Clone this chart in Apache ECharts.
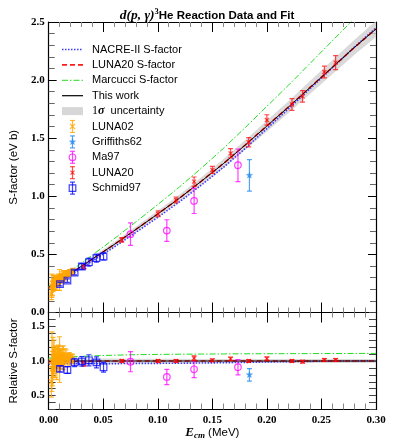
<!DOCTYPE html>
<html><head><meta charset="utf-8">
<script src="https://cdn.jsdelivr.net/npm/echarts@6/dist/echarts.min.js"></script>
<style>html,body{margin:0;padding:0;background:#fff}#c{width:395px;height:444px}</style>
</head><body><div id="c"></div>
<script>
// ---- curve grid (MeV) ----
const curveE     = [0,0.02,0.04,0.06,0.08,0.10,0.12,0.14,0.16,0.18,0.20,0.22,0.24,0.26,0.28,0.30];
const thisWork   = [0.215,0.335,0.46,0.585,0.715,0.848,0.985,1.13,1.28,1.44,1.605,1.77,1.94,2.11,2.28,2.44];
const nacreII    = [0.205,0.322,0.443,0.563,0.69,0.819,0.953,1.097,1.248,1.411,1.583,1.754,1.93,2.106,2.282,2.45];
const luna20Fit  = [0.213,0.334,0.459,0.585,0.715,0.848,0.985,1.131,1.281,1.441,1.606,1.771,1.941,2.11,2.279,2.44];
const marcucci   = [0.224,0.355,0.494,0.634,0.78,0.929,1.081,1.243,1.411,1.59,1.774,1.958,2.148,2.338,2.529,2.708];
const bandLo     = [0.205,0.322,0.443,0.564,0.69,0.821,0.955,1.097,1.242,1.398,1.558,1.719,1.884,2.05,2.215,2.37];
const bandHi     = [0.225,0.348,0.477,0.606,0.74,0.875,1.015,1.163,1.318,1.482,1.652,1.821,1.996,2.17,2.345,2.51];
// relative curves
const thisWorkRel = [1,1,1,1,1,1,1,1,1,1,1,1,1,1,1,1];
const nacreIIRel  = [0.953,0.961,0.963,0.962,0.965,0.966,0.968,0.971,0.975,0.98,0.986,0.991,0.995,0.998,1.001,1.004];
const luna20FitRel= [0.991,0.997,0.998,1.0,1.0,1.0,1.0,1.001,1.001,1.001,1.001,1.0,1.0,1.0,1.0,1.0];
const marcucciRel = [1.042,1.06,1.074,1.084,1.091,1.095,1.098,1.1,1.102,1.104,1.105,1.106,1.107,1.108,1.109,1.11];
const bandRelLo   = [0.955,0.961,0.964,0.965,0.966,0.968,0.969,0.97,0.97,0.971,0.971,0.971,0.971,0.972,0.972,0.972];
const bandRelHi   = [1.045,1.039,1.036,1.035,1.034,1.032,1.031,1.03,1.03,1.029,1.029,1.029,1.029,1.028,1.028,1.028];

// ---- data sets ----
const luna02E      = [0.0025,0.003,0.0035,0.004,0.0045,0.005,0.0055,0.006,0.0065,0.007,0.0075,0.008,0.0085,0.009,0.0095,0.010,0.0105,0.011,0.0115,0.012,0.0125,0.013,0.0135,0.014,0.015,0.016,0.017,0.018,0.019,0.020,0.021,0.022];
const luna02S      = [0.16,0.23,0.21,0.25,0.24,0.26,0.25,0.24,0.27,0.26,0.25,0.28,0.27,0.28,0.29,0.28,0.29,0.29,0.30,0.29,0.31,0.30,0.31,0.31,0.32,0.33,0.33,0.34,0.34,0.35,0.35,0.36];
const luna02Err    = [0.05,0.10,0.06,0.07,0.05,0.06,0.04,0.05,0.04,0.03,0.06,0.04,0.03,0.05,0.03,0.09,0.03,0.04,0.03,0.02,0.04,0.03,0.05,0.02,0.04,0.03,0.02,0.02,0.03,0.02,0.02,0.02];
const luna02Rel    = [0.70,0.99,0.89,1.05,0.99,1.06,1.01,0.96,1.06,1.01,0.96,1.06,1.02,1.04,1.07,1.02,1.04,1.03,1.06,1.01,1.07,1.02,1.05,1.04,1.05,1.06,1.04,1.05,1.03,1.04,1.03,1.04];
const luna02RelErr = [0.22,0.43,0.25,0.29,0.21,0.24,0.16,0.20,0.16,0.12,0.23,0.15,0.11,0.19,0.11,0.33,0.11,0.14,0.11,0.07,0.14,0.10,0.17,0.07,0.13,0.10,0.06,0.06,0.09,0.06,0.06,0.06];

const griffE = [0.184], griffS = [1.18], griffErr = [0.135], griffRel = [0.80], griffRelErr = [0.09];

const ma97E = [0.075,0.1083,0.1333,0.1735];
const ma97S = [0.674,0.705,0.96,1.267];
const ma97Err = [0.097,0.093,0.108,0.14];
const ma97Rel = [0.99,0.77,0.88,0.91];
const ma97RelErr = [0.145,0.11,0.12,0.11];

const luna20E = [0.0324,0.067,0.1003,0.1167,0.1333,0.150,0.1667,0.1833,0.200,0.223,0.2327,0.2527,0.263];
const luna20S = [0.39,0.625,0.849,0.969,1.126,1.227,1.37,1.465,1.657,1.79,1.86,2.07,2.15];
const luna20Err = [0.015,0.02,0.025,0.025,0.04,0.03,0.04,0.04,0.045,0.05,0.05,0.05,0.06];
const luna20Rel = [0.955,1.0,1.0,1.0,1.04,1.01,1.03,1.0,1.035,1.0,0.99,1.015,1.015];
const luna20RelErr = [0.03,0.02,0.02,0.02,0.035,0.02,0.025,0.02,0.025,0.02,0.02,0.02,0.02];

const schmidE = [0.0104,0.0172,0.0238,0.0304,0.0369,0.0438,0.0503];
const schmidS = [0.244,0.275,0.344,0.396,0.433,0.468,0.482];
const schmidErr = [0.015,0.015,0.02,0.025,0.035,0.035,0.03];
const schmidRel = [0.885,0.87,0.98,0.995,1.01,0.98,0.91];
const schmidRelErr = [0.04,0.05,0.06,0.07,0.08,0.08,0.07];

// ---- styles ----
const C = {
  nacre:'#3a3aff', luna20:'#ff1a1a', marc:'#22dd22', work:'#000000', band:'rgba(205,205,205,0.75)',
  luna02:'rgba(255,165,0,0.8)', griff:'rgba(40,140,240,0.8)', ma97:'rgba(255,0,255,0.75)',
  l20pts:'rgba(255,0,0,0.7)', schmid:'rgba(0,0,255,0.75)'
};
const TICKFONT = {fontFamily:'Liberation Serif', fontWeight:'bold', fontSize:11, color:'#000'};

function markerEls(kind, cx, cy, color){
  const st = {stroke:color, fill:'none', lineWidth:1.2};
  if (kind==='x' || kind==='sx'){
    const r = kind==='x'?2.6:2;
    return [{type:'line',shape:{x1:cx-r,y1:cy-r,x2:cx+r,y2:cy+r},style:st},
            {type:'line',shape:{x1:cx-r,y1:cy+r,x2:cx+r,y2:cy-r},style:st}];
  }
  if (kind==='circle') return [{type:'circle',shape:{cx,cy,r:3.3},style:st}];
  if (kind==='square') return [{type:'rect',shape:{x:cx-3.3,y:cy-3.3,width:6.6,height:6.6},style:st}];
  if (kind==='star'){
    const pts=[]; for(let k=0;k<10;k++){const a=-Math.PI/2+k*Math.PI/5; const r=k%2?1.3:3.2; pts.push([cx+r*Math.cos(a),cy+r*Math.sin(a)]);}
    return [{type:'polygon',shape:{points:pts},style:{fill:color,stroke:color,lineWidth:0.5}}];
  }
  return [];
}
function errEls(cx, yTop, yBot, cy, color, kind){
  const st = {stroke:color, lineWidth:1.2};
  const cap=2.5;
  return [
    {type:'line',shape:{x1:cx,y1:yTop,x2:cx,y2:yBot},style:st},
    {type:'line',shape:{x1:cx-cap,y1:yTop,x2:cx+cap,y2:yTop},style:st},
    {type:'line',shape:{x1:cx-cap,y1:yBot,x2:cx+cap,y2:yBot},style:st}
  ].concat(markerEls(kind,cx,cy,color));
}
function errSeries(name, E, V, Er, color, kind, xi, yi){
  return {type:'custom', name, xAxisIndex:xi, yAxisIndex:yi, clip:true, z:5, silent:true,
    encode:{x:0,y:1},
    data:E.map((e,i)=>[e,V[i],Er[i]]),
    renderItem:(p,api)=>{
      const x=api.value(0), y=api.value(1), er=api.value(2);
      const c=api.coord([x,y]), hi=api.coord([x,y+er]), lo=api.coord([x,y-er]);
      return {type:'group', children:errEls(c[0],hi[1],lo[1],c[1],color,kind)};
    }};
}
function lineSeries(name, E, V, color, dash, w, xi, yi, z){
  return {type:'line', name, xAxisIndex:xi, yAxisIndex:yi, data:E.map((e,i)=>[e,V[i]]),
    showSymbol:false, symbol:'none', silent:true, z:z||3, clip:true,
    lineStyle:{color, width:w, type: dash||'solid'}};
}
function bandSeries(E, lo, hi, xi, yi){
  return {type:'custom', xAxisIndex:xi, yAxisIndex:yi, clip:true, silent:true, z:1,
    encode:{x:0,y:1}, data:[[E[0],lo[0]]],
    renderItem:(p,api)=>{
      const pts=[];
      for(let i=0;i<E.length;i++) pts.push(api.coord([E[i],hi[i]]));
      for(let i=E.length-1;i>=0;i--) pts.push(api.coord([E[i],lo[i]]));
      return {type:'polygon',shape:{points:pts},style:{fill:C.band}};
    }};
}

const TOP={left:40, top:22, width:336, height:290.5};
const BOT={left:40, top:312.5, width:336, height:97};

function xAx(grid, pos, labels, major, minor){
  return {type:'value', gridIndex:grid, position:pos, min:0, max:0.3, interval:0.05,
    axisLine:{show:true, onZero:false, lineStyle:{color:'#000', width:1.2}},
    axisTick:{show:true, inside:true, length:major, lineStyle:{color:'#000', width:1}},
    minorTick:{show:true, splitNumber:5, length:minor, lineStyle:{color:'#888', width:1}},
    splitLine:{show:false}, minorSplitLine:{show:false},
    axisLabel:labels?Object.assign({show:true, margin:5, formatter:v=>v.toFixed(2)},TICKFONT):{show:false}};
}

const sans='Liberation Sans';
const option = {
  animation:false, backgroundColor:'#fff',
  title:{text:'{m|d(p, γ)}{s|3}{n|He Reaction Data and Fit}', left:202, top:2, textAlign:'center',
    textStyle:{rich:{
      m:{fontFamily:'Liberation Serif', fontWeight:'bold', fontStyle:'italic', fontSize:13.5, color:'#000'},
      s:{fontFamily:'Liberation Serif', fontSize:8.5, color:'#000', padding:[0,0,8,0]},
      n:{fontFamily:sans, fontSize:11.5, color:'#000'}}}},
  grid:[Object.assign({containLabel:false},TOP), Object.assign({containLabel:false},BOT)],
  xAxis:[
    xAx(0,'bottom',false,10,5), xAx(0,'top',false,10,5),
    Object.assign(xAx(1,'bottom',true,11,6),{
      name:'{e|E}{s|cm}{n| (MeV)}', nameLocation:'middle', nameGap:14,
      nameTextStyle:{rich:{
        e:{fontFamily:'Liberation Serif', fontWeight:'bold', fontStyle:'italic', fontSize:13, color:'#000'},
        s:{fontFamily:'Liberation Serif', fontWeight:'bold', fontStyle:'italic', fontSize:9, color:'#000', padding:[5,0,0,0]},
        n:{fontFamily:sans, fontSize:11.5, color:'#000'}}}}),
    xAx(1,'top',false,10,5)
  ],
  yAxis:[
    {type:'value', gridIndex:0, position:'left', min:0, max:2.5, interval:0.5,
      name:'S-factor (eV b)', nameLocation:'middle', nameGap:21, nameTextStyle:{fontFamily:sans, fontSize:11.5, color:'#000'},
      axisLine:{show:true, onZero:false, lineStyle:{color:'#000', width:1.2}},
      axisTick:{show:true, inside:true, length:8, lineStyle:{color:'#000'}},
      minorTick:{show:true, splitNumber:5, length:6, lineStyle:{color:'#666'}},
      splitLine:{show:false}, axisLabel:Object.assign({margin:4, formatter:v=>v.toFixed(1)},TICKFONT)},
    {type:'value', gridIndex:0, position:'right', min:0, max:2.5, interval:0.5,
      axisLine:{show:true, onZero:false, lineStyle:{color:'#000', width:1.2}},
      axisTick:{show:true, inside:true, length:8, lineStyle:{color:'#000'}},
      minorTick:{show:true, splitNumber:5, length:6, lineStyle:{color:'#666'}},
      splitLine:{show:false}, axisLabel:{show:false}},
    {type:'value', gridIndex:1, position:'left', min:0.3, max:1.7, interval:0.1,
      name:'Relative S-factor', nameLocation:'middle', nameGap:21, nameTextStyle:{fontFamily:sans, fontSize:11.5, color:'#000'},
      axisLine:{show:true, onZero:false, lineStyle:{color:'#000', width:1.2}},
      axisTick:{show:true, inside:true, length:7, lineStyle:{color:'#444'}},
      splitLine:{show:false},
      axisLabel:Object.assign({margin:4, showMinLabel:true, showMaxLabel:true,
        formatter:v=>[0.5,1.0,1.5].some(t=>Math.abs(v-t)<1e-6)?v.toFixed(1):''},TICKFONT)},
    {type:'value', gridIndex:1, position:'right', min:0.3, max:1.7, interval:0.1,
      axisLine:{show:true, onZero:false, lineStyle:{color:'#000', width:1.2}},
      axisTick:{show:true, inside:true, length:7, lineStyle:{color:'#444'}},
      splitLine:{show:false}, axisLabel:{show:false}}
  ],
  series:[
    // top panel
    bandSeries(curveE, bandLo, bandHi, 0, 0),
    lineSeries('NACRE-II S-factor', curveE, nacreII, C.nacre, [1.5,1.5], 1.6, 0, 0),
    lineSeries('LUNA20 S-factor', curveE, luna20Fit, C.luna20, [5,3], 1.6, 0, 0),
    lineSeries('Marcucci S-factor', curveE, marcucci, C.marc, [6,2,1.5,2], 1, 0, 0),
    lineSeries('This work', curveE, thisWork, C.work, null, 1, 0, 0, 4),
    errSeries('LUNA02', luna02E, luna02S, luna02Err, C.luna02, 'x', 0, 0),
    errSeries('Griffiths62', griffE, griffS, griffErr, C.griff, 'star', 0, 0),
    errSeries('Ma97', ma97E, ma97S, ma97Err, C.ma97, 'circle', 0, 0),
    errSeries('LUNA20', luna20E, luna20S, luna20Err, C.l20pts, 'sx', 0, 0),
    errSeries('Schmid97', schmidE, schmidS, schmidErr, C.schmid, 'square', 0, 0),
    // bottom panel
    bandSeries(curveE, bandRelLo, bandRelHi, 2, 2),
    lineSeries('NACRE-II rel', curveE, nacreIIRel, C.nacre, [1.5,1.5], 1.6, 2, 2),
    lineSeries('LUNA20 rel', curveE, luna20FitRel, C.luna20, [5,3], 1.6, 2, 2),
    lineSeries('Marcucci rel', curveE, marcucciRel, C.marc, [6,2,1.5,2], 1, 2, 2),
    lineSeries('This work rel', curveE, thisWorkRel, C.work, null, 1, 2, 2, 4),
    errSeries('LUNA02 rel', luna02E, luna02Rel, luna02RelErr, C.luna02, 'x', 2, 2),
    errSeries('Griffiths62 rel', griffE, griffRel, griffRelErr, C.griff, 'star', 2, 2),
    errSeries('Ma97 rel', ma97E, ma97Rel, ma97RelErr, C.ma97, 'circle', 2, 2),
    errSeries('LUNA20 rel', luna20E, luna20Rel, luna20RelErr, C.l20pts, 'sx', 2, 2),
    errSeries('Schmid97 rel', schmidE, schmidRel, schmidRelErr, C.schmid, 'square', 2, 2)
  ]
};

// ---- legend (graphic) ----
const legendRows = [
  {label:'NACRE-II S-factor', kind:'line', color:C.nacre, dash:[1.5,1.5], w:1.6},
  {label:'LUNA20 S-factor', kind:'line', color:C.luna20, dash:[5,3], w:1.6},
  {label:'Marcucci S-factor', kind:'line', color:C.marc, dash:[6,2,1.5,2], w:1},
  {label:'This work', kind:'line', color:'#000', dash:null, w:1.2},
  {label:'{a|1}{b|σ}{c|  uncertainty}', kind:'band'},
  {label:'LUNA02', kind:'err', color:C.luna02, marker:'x'},
  {label:'Griffiths62', kind:'err', color:C.griff, marker:'star'},
  {label:'Ma97', kind:'err', color:C.ma97, marker:'circle'},
  {label:'LUNA20', kind:'err', color:C.l20pts, marker:'sx'},
  {label:'Schmid97', kind:'err', color:C.schmid, marker:'square'}
];
const gEls=[];
const LX0=62, LX1=83, LTX=92, LY0=49.5, LDY=15.4;
legendRows.forEach((r,i)=>{
  const y=LY0+i*LDY;
  if(r.kind==='line') gEls.push({type:'line',shape:{x1:LX0,y1:y,x2:LX1,y2:y},style:{stroke:r.color,lineWidth:r.w,lineDash:r.dash||null}});
  else if(r.kind==='band') gEls.push({type:'rect',shape:{x:LX0,y:y-4,width:LX1-LX0,height:8},style:{fill:'rgba(205,205,205,0.8)'}});
  else gEls.push({type:'group',children:errEls((LX0+LX1)/2, y-6, y+6, y, r.color, r.marker)});
  gEls.push({type:'text',x:LTX,y:y,style:{text:r.label,fill:'#000',font:'11px "Liberation Sans"',verticalAlign:'middle',
    rich:{a:{fontFamily:'Liberation Serif',fontSize:12,fill:'#000'},b:{fontFamily:'Liberation Serif',fontWeight:'bold',fontStyle:'italic',fontSize:12,fill:'#000'},c:{fontFamily:sans,fontSize:11,fill:'#000'}}}});
});
option.graphic={elements:gEls};

const chart = echarts.init(document.getElementById('c'), null, {renderer:'canvas'});
chart.setOption(option);
</script></body></html>
